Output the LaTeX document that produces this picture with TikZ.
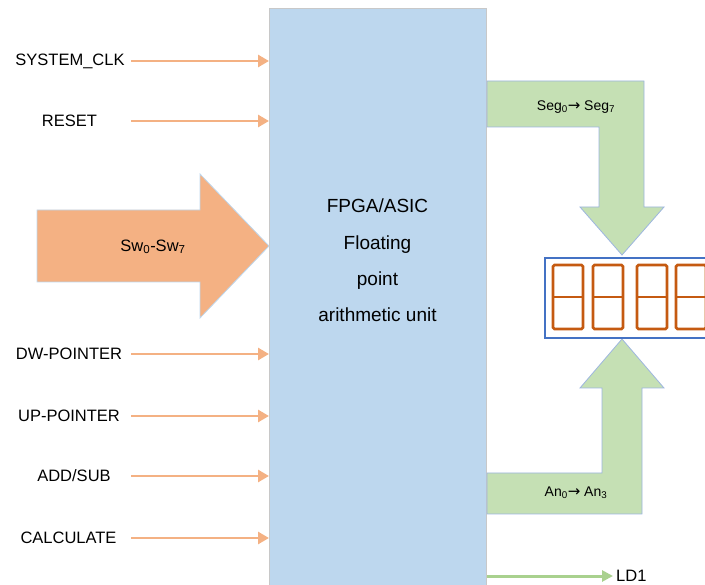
\documentclass[tikz,border=0pt]{standalone}
\usepackage{fontspec}
\setmainfont{Liberation Sans}
\newfontfamily\arrowfont{DejaVu Sans}
\usetikzlibrary{arrows.meta}
\definecolor{boxblue}{HTML}{BDD7EE}
\definecolor{boxgray}{HTML}{C8C8C8}
\definecolor{sigorange}{HTML}{F4B183}
\definecolor{segreen}{HTML}{C5E0B4}
\definecolor{segedge}{HTML}{9DB5E0}
\definecolor{ldgreen}{HTML}{A9D18E}
\definecolor{dispblue}{HTML}{4472C4}
\definecolor{digitorange}{HTML}{C55A11}
\newcommand{\myarr}{{\arrowfont\fontsize{15}{16}\selectfont →}}
\tikzset{
  lbl/.style={inner sep=0pt, font=\fontsize{16.5}{18}\selectfont},
  sig/.style={draw=sigorange, line width=2.7pt, -{Triangle[length=11pt,width=12pt]}},
  bigarrow/.style={fill=segreen, draw=segedge, line width=0.8pt},
  smalllbl/.style={inner sep=0pt, font=\fontsize{14}{16}\selectfont},
  digit/.style={draw=digitorange, line width=2.7pt, rounded corners=1.5pt},
}
\begin{document}
\begin{tikzpicture}[x=1pt,y=-1pt]
\useasboundingbox (0,0) rectangle (705,585);
% main block
\node[draw=boxgray, fill=boxblue, line width=1pt, minimum width=217pt, minimum height=590pt, inner sep=0pt, anchor=north west] (box) at (269,8) {};
\node[font=\fontsize{19}{36.3}\selectfont, align=center, inner sep=0pt] (fpga) at (377.5,260.5)
  {FPGA/ASIC\\Floating\\point\\arithmetic unit};
% big orange input arrow
\draw[fill=sigorange, draw=boxblue, line width=0.8pt]
  (37,210) -- (200,210) -- (200,174) -- (269,246) -- (200,318) -- (200,282) -- (37,282) -- cycle;
\node[lbl] (sw) at (153,247) {Sw\textsubscript{0}-Sw\textsubscript{7}};
% input signals
\node[lbl] (clk) at (70,61) {SYSTEM\_CLK};
\node[lbl] (rst) at (69.5,121) {RESET};
\node[lbl] (dw) at (69,354) {DW-POINTER};
\node[lbl] (up) at (69,416) {UP-POINTER};
\node[lbl] (add) at (74,476) {ADD/SUB};
\node[lbl] (calc) at (68.5,538) {CALCULATE};
\coordinate (c1) at (131,61);
\coordinate (c2) at (131,121);
\coordinate (c3) at (131,354);
\coordinate (c4) at (131,416);
\coordinate (c5) at (131,476);
\coordinate (c6) at (131,538);
\foreach \c in {c1,c2,c3,c4,c5,c6}
  \draw[sig] (\c) -- (\c -| box.west);
% output Seg arrow
\draw[bigarrow]
  (487,81) -- (644,81) -- (644,207) -- (664,207) -- (622,255) -- (580,207) -- (599,207) -- (599,127) -- (487,127) -- cycle;
\node[smalllbl] (seg) at (576,107) {Seg\textsubscript{0}\myarr\ Seg\textsubscript{7}};
% output An arrow
\draw[bigarrow]
  (487,514) -- (642,514) -- (642,388) -- (664,388) -- (622,339) -- (580,388) -- (602,388) -- (602,473) -- (487,473) -- cycle;
\node[smalllbl] (an) at (576,493) {An\textsubscript{0}\myarr\ An\textsubscript{3}};
% display
\node[draw=dispblue, line width=2pt, minimum width=170pt, minimum height=80pt, inner sep=0pt, anchor=north west] (disp) at (544,257) {};
\foreach \x in {553,593,637,676}{
  \draw[digit] (\x,265) rectangle ++(30,64);
  \draw[digitorange, line width=2.7pt] (\x,297) -- ++(30,0);
}
% LD1
\node[lbl, anchor=west] (ld) at (616,576) {LD1};
\coordinate (ldstart) at (487,576);
\draw[draw=ldgreen, line width=3pt, -{Triangle[length=11pt,width=11pt]}] (ldstart) -- ([xshift=-3pt]ld.west);
\end{tikzpicture}
\end{document}
